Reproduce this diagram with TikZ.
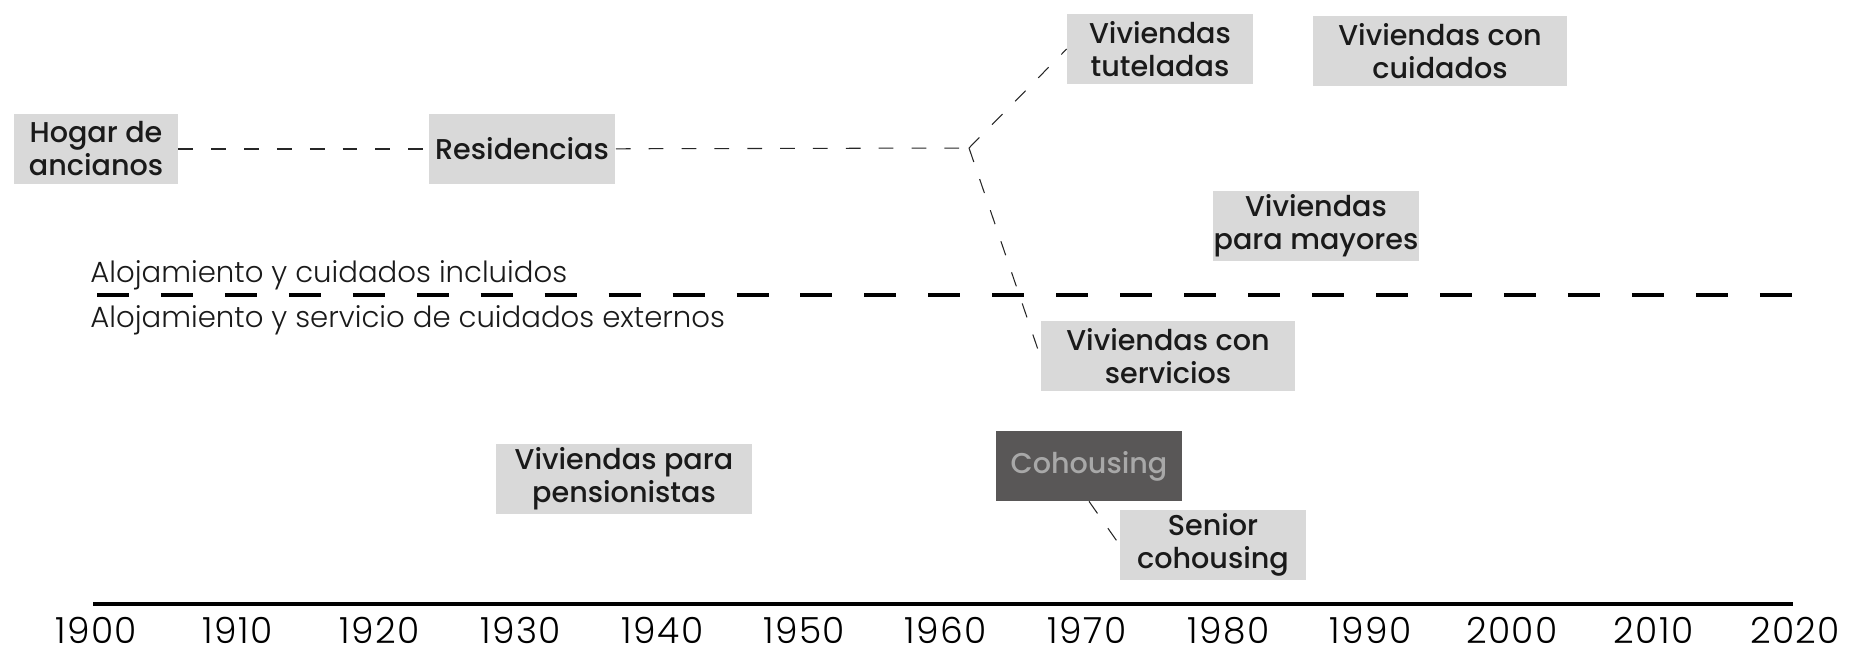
\documentclass[tikz,border=0pt]{standalone}
\usepackage{fontspec}
\setmainfont{Poppins}
\newfontfamily\medfont{Poppins Medium}
\newfontfamily\lightfont{Poppins Light}
\definecolor{boxgray}{HTML}{D9D9D9}
\definecolor{darkbox}{HTML}{595757}
\definecolor{softtext}{HTML}{A8A8A8}
\definecolor{ink}{HTML}{1A1A1A}

\begin{document}
\begin{tikzpicture}[x=0.02cm, y=-0.02cm,
  stage/.style={fill=boxgray, text=ink, inner sep=0pt, minimum height=1.4cm,
    align=center, font=\medfont\fontsize{16.3}{18.8}\selectfont},
  link/.style={draw=black!85, line width=0.6pt, dash pattern=on 8.4pt off 10.3pt},
  caption/.style={anchor=base west, inner sep=0pt, text=ink,
    font=\lightfont\fontsize{16.6}{19}\selectfont}]
\useasboundingbox (0,0) rectangle (1873,647);

% care models
\node[stage, minimum width=3.28cm] (hogar) at (96,149) {Hogar de\\ancianos};
\node[stage, minimum width=3.74cm] (resid) at (522,149) {Residencias};
\node[stage, minimum width=3.72cm] (tutel) at (1160,49) {Viviendas\\tuteladas};
\node[stage, minimum width=5.1cm] (cuidados) at (1440,51) {Viviendas con\\cuidados};
\node[stage, minimum width=4.14cm] (mayores) at (1316,226) {Viviendas\\para mayores};
\node[stage, minimum width=5.1cm] (servicios) at (1168,356) {Viviendas con\\servicios};
\node[stage, minimum width=5.12cm] (pension) at (624,479) {Viviendas para\\pensionistas};
\node[stage, minimum width=3.72cm, fill=darkbox, text=softtext] (cohousing) at (1089,466) {Cohousing};
\node[stage, minimum width=3.72cm] (senior) at (1213,545) {Senior\\cohousing};

% lineage
\coordinate (fork) at (969,148);
\draw[link] (hogar) -- (resid);
\draw[link] (resid) -- (fork);
\draw[link] (fork) -- (tutel.west);
\draw[link] (fork) -- (servicios.west);
\draw[link] (cohousing.south) -- (senior.west);

% split between included and external care
\draw[line width=2.3pt, dash pattern=on 18.2pt off 18.2pt] (97,295) -- (1795,295);
\node[caption] (incl) at (90,282) {Alojamiento y cuidados incluidos};
\node[caption] (ext) at (90,327) {Alojamiento y servicio de cuidados externos};

% time axis
\draw[line width=2.3pt] (93,604) -- (1793,604);
\foreach \yr [count=\i from 0] in {1900,1910,...,2020}
  \node[anchor=base, inner sep=0pt, font=\lightfont\fontsize{20.5}{24}\selectfont\addfontfeature{LetterSpace=4}]
    (y\yr) at ({96+141.6*\i},643) {\yr};
\end{tikzpicture}
\end{document}
